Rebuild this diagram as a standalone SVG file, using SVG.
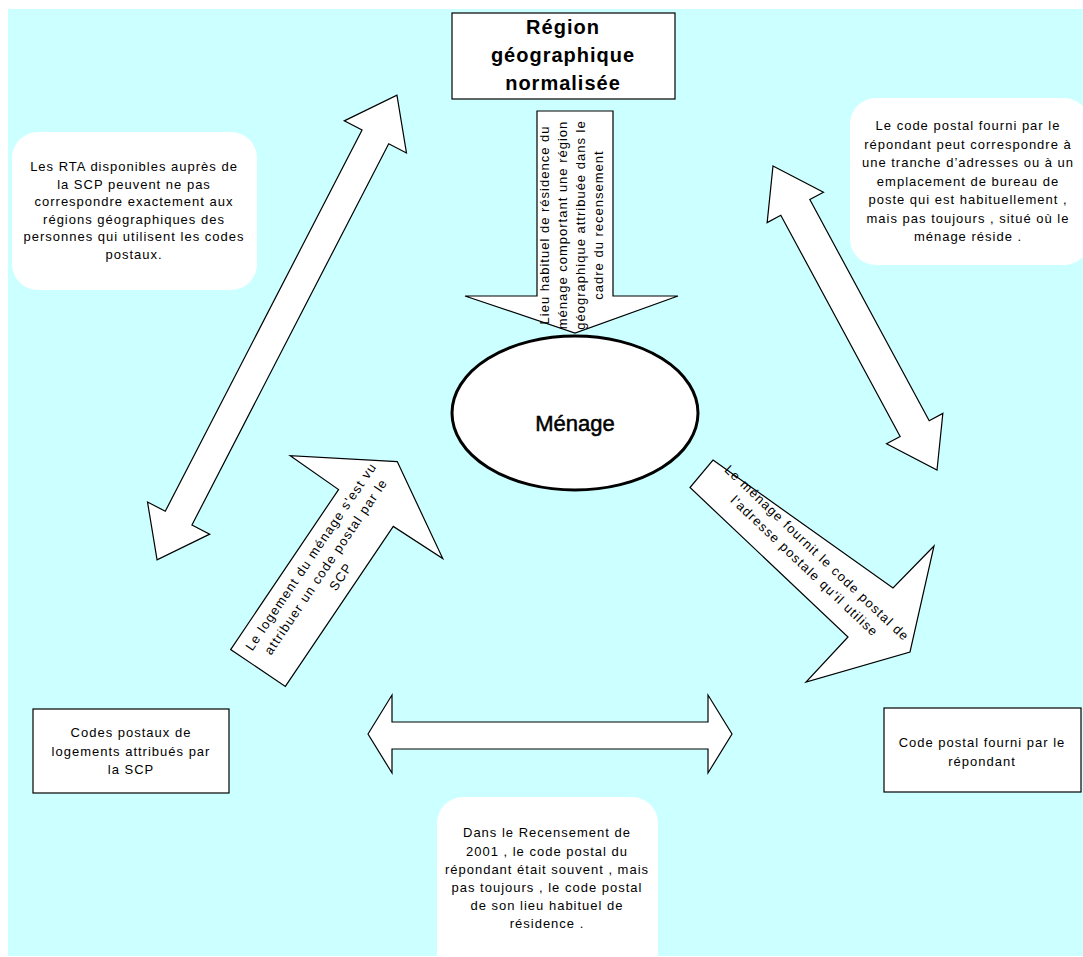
<svg xmlns="http://www.w3.org/2000/svg" width="1083" height="957" viewBox="0 0 1083 957">
<style>
.bg{fill:#CCFFFF}
.shape{fill:#fff;stroke:#000;stroke-width:1.2;stroke-linejoin:miter}
.callout{fill:#fff}
.t{font-family:"Liberation Sans",Arial,sans-serif;font-size:13px;letter-spacing:1px;text-anchor:middle;fill:#000}
.ta{letter-spacing:1.2px}
.big{font-family:"Liberation Sans",Arial,sans-serif;font-size:20px;font-weight:bold;letter-spacing:1px;text-anchor:middle;fill:#000}
</style>
<rect x="0" y="0" width="1083" height="957" fill="#fff"/>
<rect class="bg" x="8" y="9" width="1075" height="947"/>

<g id="note-rta">
<rect class="callout" x="12" y="132" width="245" height="158" rx="26"/>
<text class="t"><tspan x="134" y="171">Les RTA disponibles auprès de</tspan><tspan x="134" y="188.5">la SCP peuvent ne pas</tspan><tspan x="134" y="206">correspondre exactement aux</tspan><tspan x="134" y="223.5">régions géographiques des</tspan><tspan x="134" y="241">personnes qui utilisent les codes</tspan><tspan x="134" y="258.5">postaux.</tspan></text>
</g>

<g id="note-code">
<rect class="callout" x="850" y="98" width="240" height="167" rx="26"/>
<text class="t"><tspan x="968" y="130">Le code postal fourni par le</tspan><tspan x="968" y="148.5">répondant peut correspondre à</tspan><tspan x="968" y="167">une tranche d’adresses ou à un</tspan><tspan x="968" y="185.5">emplacement de bureau de</tspan><tspan x="968" y="204">poste qui est habituellement ,</tspan><tspan x="968" y="222.5">mais pas toujours , situé où le</tspan><tspan x="968" y="241">ménage réside .</tspan></text>
</g>

<g id="note-2001">
<rect class="callout" x="437" y="797" width="221" height="190" rx="26"/>
<text class="t"><tspan x="547" y="837">Dans le Recensement de</tspan><tspan x="547" y="855.5">2001 , le code postal du</tspan><tspan x="547" y="873.5">répondant était souvent , mais</tspan><tspan x="547" y="891.5">pas toujours , le code postal</tspan><tspan x="547" y="910">de son lieu habituel de</tspan><tspan x="547" y="928">résidence .</tspan></text>
</g>

<g id="connectors">
<g id="arrow-region-menage">
<polygon class="shape" points="537,111 613,111 613,296 678,296 575,333 465,296 537,296"/>
<g transform="translate(575,225) rotate(-90)">
<text class="t"><tspan x="0" y="-26">Lieu habituel de résidence du</tspan><tspan x="0" y="-8">ménage comportant une région</tspan><tspan x="0" y="10">géographique attribuée dans le</tspan><tspan x="0" y="28">cadre du recensement</tspan></text>
</g>
</g>
<g id="arrow-left-double" transform="translate(277,327.5) rotate(-62.7)">
<polygon class="shape" points="-261.5,0 -214.5,-35 -214.5,-15 214.5,-15 214.5,-35 261.5,0 214.5,35 214.5,15 -214.5,15 -214.5,35"/>
</g>
<g id="arrow-right-double" transform="translate(855,318) rotate(61.65)">
<polygon class="shape" points="-172.7,0 -125.7,-32 -125.7,-16.5 125.7,-16.5 125.7,-32 172.7,0 125.7,32 125.7,16.5 -125.7,16.5 -125.7,32"/>
</g>
<g id="arrow-bottom-double">
<polygon class="shape" points="368,734 392,695 392,722 708,722 708,695 732,734 708,773 708,749 392,749 392,773"/>
</g>
<g id="arrow-logement" transform="translate(258,668) rotate(-56)">
<polygon class="shape" points="0,-33 193,-33 194,-92 249,0 194,92 193,33 0,33"/>
<text class="t ta"><tspan x="122" y="-14">Le logement du ménage s'est vu</tspan><tspan x="122" y="4">attribuer un code postal par le</tspan><tspan x="122" y="22">SCP</tspan></text>
</g>
<g id="arrow-menage-code">
<polygon class="shape" points="713,460 893,588 934,546 910,652 806,682 848,637 690,487.5"/>
<g transform="translate(817,553) rotate(43.5)">
<text class="t ta"><tspan x="0" y="4.5">Le ménage fournit le code postal de</tspan><tspan x="0" y="22.5">l'adresse postale qu'il utilise</tspan></text>
</g>
</g>
</g>

<g id="node-region">
<rect class="shape" x="452" y="13" width="223" height="86"/>
<text class="big"><tspan x="563" y="34">Région</tspan><tspan x="563" y="62">géographique</tspan><tspan x="563" y="90">normalisée</tspan></text>
</g>

<g id="node-menage">
<ellipse cx="575" cy="413" rx="123" ry="77" fill="#fff" stroke="#000" stroke-width="3"/>
<text x="575" y="431" font-family="Liberation Sans, Arial, sans-serif" font-size="22" stroke="#000" stroke-width="0.5" text-anchor="middle" fill="#000">Ménage</text>
</g>

<g id="node-codes-scp">
<rect class="shape" x="33" y="709" width="196" height="84"/>
<text class="t"><tspan x="131" y="737">Codes postaux de</tspan><tspan x="131" y="756">logements attribués par</tspan><tspan x="131" y="774">la SCP</tspan></text>
</g>

<g id="node-code-repondant">
<rect class="shape" x="884" y="708" width="197" height="84"/>
<text class="t"><tspan x="982" y="747">Code postal fourni par le</tspan><tspan x="982" y="766">répondant</tspan></text>
</g>
</svg>
